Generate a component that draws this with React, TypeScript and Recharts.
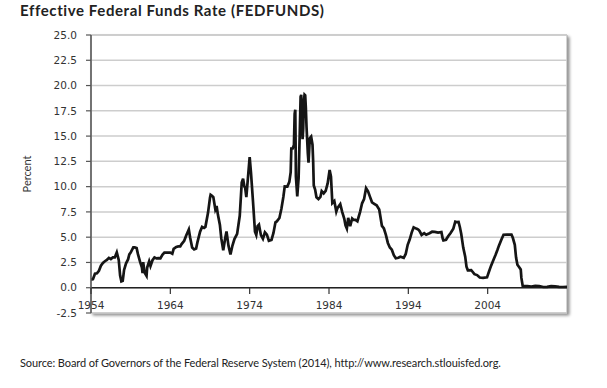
import React from 'react';
import {
  LineChart,
  Line,
  XAxis,
  YAxis,
  CartesianGrid,
  ReferenceLine,
  ReferenceArea,
} from 'recharts';

// monthly-ish observations, decimal year
const dates = [
  1954.5, 1954.75, 1955.0, 1955.25, 1955.5, 1955.75, 1956.0, 1956.25, 1956.5, 1956.75,
  1957.0, 1957.25, 1957.5, 1957.75, 1957.92, 1958.0, 1958.17, 1958.33, 1958.5, 1958.67, 1958.92, 1959.17, 1959.33, 1959.5, 1959.83,
  1960.0, 1960.25, 1960.42, 1960.67, 1960.92, 1961.0, 1961.08, 1961.25, 1961.5, 1961.58, 1961.83,
  1962.0, 1962.25, 1962.5, 1962.75, 1963.0, 1963.25, 1963.5, 1963.75, 1964.0, 1964.25, 1964.5, 1964.75, 1964.92,
  1965.25, 1965.5, 1965.75, 1965.92, 1966.25, 1966.5, 1966.83, 1967.0, 1967.25, 1967.5, 1967.75, 1967.92,
  1968.25, 1968.5, 1968.75, 1968.92, 1969.25, 1969.5, 1969.58, 1969.75, 1969.92, 1970.17, 1970.33, 1970.5, 1970.75, 1970.92,
  1971.17, 1971.42, 1971.58, 1971.83, 1972.08, 1972.33, 1972.58, 1972.92, 1973.25, 1973.5, 1973.67, 1973.83, 1973.92,
  1974.08, 1974.33, 1974.5, 1974.67, 1974.92, 1975.17, 1975.33, 1975.5, 1975.67, 1975.92, 1976.17, 1976.42, 1976.67, 1976.92,
  1977.25, 1977.5, 1977.75, 1977.92, 1978.25, 1978.5, 1978.75, 1978.92, 1979.25, 1979.5, 1979.67, 1979.75, 1979.92,
  1980.08, 1980.17, 1980.25, 1980.33, 1980.5, 1980.67, 1980.83, 1980.92, 1981.0, 1981.08, 1981.17, 1981.25, 1981.33, 1981.42, 1981.5, 1981.58, 1981.67, 1981.83, 1981.92,
  1982.08, 1982.25, 1982.42, 1982.5, 1982.58, 1982.75, 1982.92, 1983.17, 1983.42, 1983.58, 1983.83, 1984.08, 1984.33, 1984.58, 1984.75, 1984.92,
  1985.17, 1985.42, 1985.58, 1985.92, 1986.17, 1986.42, 1986.58, 1986.75, 1986.92, 1987.17, 1987.42, 1987.58, 1987.83,
  1988.08, 1988.42, 1988.67, 1988.92, 1989.17, 1989.42, 1989.67, 1989.92, 1990.25, 1990.5, 1990.83, 1990.92,
  1991.17, 1991.42, 1991.67, 1991.92, 1992.17, 1992.42, 1992.67, 1992.92, 1993.25, 1993.5, 1993.92,
  1994.17, 1994.42, 1994.67, 1994.92, 1995.17, 1995.5, 1995.75, 1995.92, 1996.17, 1996.5, 1996.75, 1997.17, 1997.5, 1997.83,
  1998.25, 1998.67, 1998.83, 1998.92, 1999.25, 1999.5, 1999.83, 2000.17, 2000.42, 2000.58, 2000.83, 2001.0, 2001.17, 2001.42, 2001.67, 2001.83,
  2002.0, 2002.42, 2002.83, 2003.17, 2003.5, 2003.92, 2004.42, 2004.67, 2004.92, 2005.25, 2005.5, 2005.75, 2005.92,
  2006.25, 2006.5, 2006.92, 2007.5, 2007.67, 2007.92, 2008.08, 2008.25, 2008.5, 2008.67, 2008.75, 2008.92,
  2009.5, 2010.0, 2010.5, 2011.0, 2011.5, 2012.0, 2012.5, 2013.0, 2013.5, 2014.0, 2014.5,
];

const rates = [
  0.8, 0.85, 1.39, 1.43, 1.68, 2.18, 2.45, 2.62, 2.75, 2.95,
  2.84, 3.0, 3.0, 3.5, 2.98, 2.72, 1.2, 0.63, 0.68, 1.76, 2.42, 2.8, 3.3, 3.47, 4.0,
  3.99, 3.92, 3.32, 2.6, 1.98, 1.45, 2.54, 1.49, 1.16, 2.0, 2.61,
  2.15, 2.72, 3.0, 2.9, 2.92, 2.9, 3.26, 3.48, 3.48, 3.47, 3.48, 3.36, 3.85,
  4.04, 4.09, 4.08, 4.32, 4.65, 5.17, 5.76, 4.94, 3.98, 3.79, 3.88, 4.51,
  5.55, 6.02, 5.92, 6.02, 7.41, 8.9, 9.19, 9.1, 8.97, 7.76, 8.1, 7.21, 6.2, 4.9,
  3.71, 4.91, 5.57, 4.14, 3.29, 4.17, 4.81, 5.33, 7.12, 10.4, 10.78, 10.01, 9.95,
  8.97, 11.31, 12.92, 11.34, 8.53, 5.54, 5.22, 6.1, 6.24, 5.2, 4.84, 5.48, 5.25, 4.65,
  4.73, 5.42, 6.47, 6.56, 6.9, 7.81, 9.0, 10.03, 10.01, 10.47, 11.43, 13.77, 13.78,
  14.13, 17.19, 17.61, 10.98, 9.03, 10.87, 15.85, 18.9, 19.08, 15.93, 14.7, 15.72, 18.52, 19.1, 19.04, 17.82, 15.87, 13.31, 12.37,
  14.78, 14.94, 14.15, 12.59, 10.12, 9.71, 8.95, 8.77, 8.98, 9.56, 9.34, 9.59, 10.32, 11.64, 10.99, 8.38,
  8.58, 7.53, 7.9, 8.27, 7.48, 6.85, 6.17, 5.85, 6.91, 6.1, 6.85, 6.73, 6.72,
  6.58, 7.51, 8.35, 8.76, 9.85, 9.53, 8.99, 8.45, 8.28, 8.15, 7.74, 7.31,
  6.12, 5.86, 5.22, 4.43, 3.98, 3.76, 3.22, 2.92, 2.96, 3.06, 2.96,
  3.34, 4.25, 4.76, 5.45, 5.98, 5.85, 5.76, 5.6, 5.22, 5.4, 5.24, 5.39, 5.54, 5.52,
  5.45, 5.51, 4.86, 4.68, 4.74, 5.07, 5.42, 5.85, 6.53, 6.5, 6.51, 5.98, 5.31, 3.97, 3.07, 2.09,
  1.73, 1.75, 1.34, 1.25, 1.01, 0.98, 1.03, 1.61, 2.16, 2.79, 3.26, 3.78, 4.16,
  4.79, 5.24, 5.25, 5.26, 4.94, 4.24, 2.98, 2.28, 2.01, 1.81, 0.97, 0.16,
  0.16, 0.11, 0.18, 0.17, 0.07, 0.08, 0.16, 0.14, 0.09, 0.07, 0.09,
];

// ticks sit every 120 months from the first observation
const xTicks = [1954.5, 1964.5, 1974.5, 1984.5, 1994.5, 2004.5];
const xLabels = ['1954', '1964', '1974', '1984', '1994', '2004'];
const yTicks = [-2.5, 0, 2.5, 5, 7.5, 10, 12.5, 15, 17.5, 20, 22.5, 25];

const data = dates.map((d, i) => ({ year: d, rate: rates[i] }));

const tickFont = { fontFamily: 'DejaVu Sans, sans-serif', fontSize: 10.5, fill: '#333' };

function XTick({ x, y, payload, index }: any) {
  return (
    <g>
      <line x1={x} x2={x} y1={y - 25} y2={y - 19} stroke="#333" strokeWidth={1.2} />
      <text x={x} y={y - 4} textAnchor="middle" style={tickFont}>
        {xLabels[index] ?? Math.floor(payload.value)}
      </text>
    </g>
  );
}

export default function App() {
  return (
    <div style={{ position: 'absolute', left: 0, top: 0, width: 607, height: 388, background: '#fff' }}>
      <div
        style={{
          position: 'absolute',
          left: 20,
          top: 3,
          fontFamily: 'Lato, sans-serif',
          fontWeight: 700,
          fontSize: 15,
          lineHeight: '15px',
          letterSpacing: '0.6px',
          color: '#222',
          whiteSpace: 'nowrap',
        }}
      >
        Effective Federal Funds Rate (FEDFUNDS)
      </div>
      <LineChart width={607} height={388} data={data} margin={{ top: 35, right: 40, left: 21, bottom: 55 }}>
        <ReferenceArea
          x1={1954.5}
          x2={2014.5}
          y1={-2.5}
          y2={25}
          fill="#fff"
          fillOpacity={1}
          stroke="#a8a8a8"
          strokeWidth={1}
          zIndex={-200}
          style={{ filter: 'drop-shadow(2px 2px 1.5px rgba(0,0,0,0.45))' }}
        />
        <CartesianGrid vertical={false} stroke="#cdcdcd" strokeWidth={1.5} />
        <XAxis
          dataKey="year"
          type="number"
          domain={[1954.5, 2014.5]}
          ticks={xTicks}
          interval={0}
          allowDataOverflow
          axisLine={false}
          tickLine={false}
          tickSize={0}
          tickMargin={0}
          height={20}
          tick={<XTick />}
        />
        <YAxis
          domain={[-2.5, 25]}
          ticks={yTicks}
          interval={0}
          width={70}
          tickSize={5}
          tickMargin={9}
          tickFormatter={(v: number) => v.toFixed(1)}
          axisLine={{ stroke: '#555', strokeWidth: 1.5 }}
          tickLine={{ stroke: '#555', strokeWidth: 1.2 }}
          tick={tickFont}
          label={{
            value: 'Percent',
            angle: -90,
            position: 'insideLeft',
            offset: 6,
            style: { textAnchor: 'middle', fontFamily: 'Lato, sans-serif', fontSize: 11, fill: '#333' },
          }}
        />
        <ReferenceLine y={0} stroke="#222" strokeWidth={1.5} />
        <Line
          type="linear"
          dataKey="rate"
          stroke="#151515"
          strokeWidth={2.7}
          dot={false}
          isAnimationActive={false}
        />
      </LineChart>
      <div
        style={{
          position: 'absolute',
          left: 20,
          top: 357,
          fontFamily: 'Lato, sans-serif',
          fontSize: 11,
          lineHeight: '11px',
          letterSpacing: '-0.1px',
          color: '#222',
          whiteSpace: 'nowrap',
        }}
      >
        Source: Board of Governors of the Federal Reserve System (2014), http://www.research.stlouisfed.org.
      </div>
    </div>
  );
}
